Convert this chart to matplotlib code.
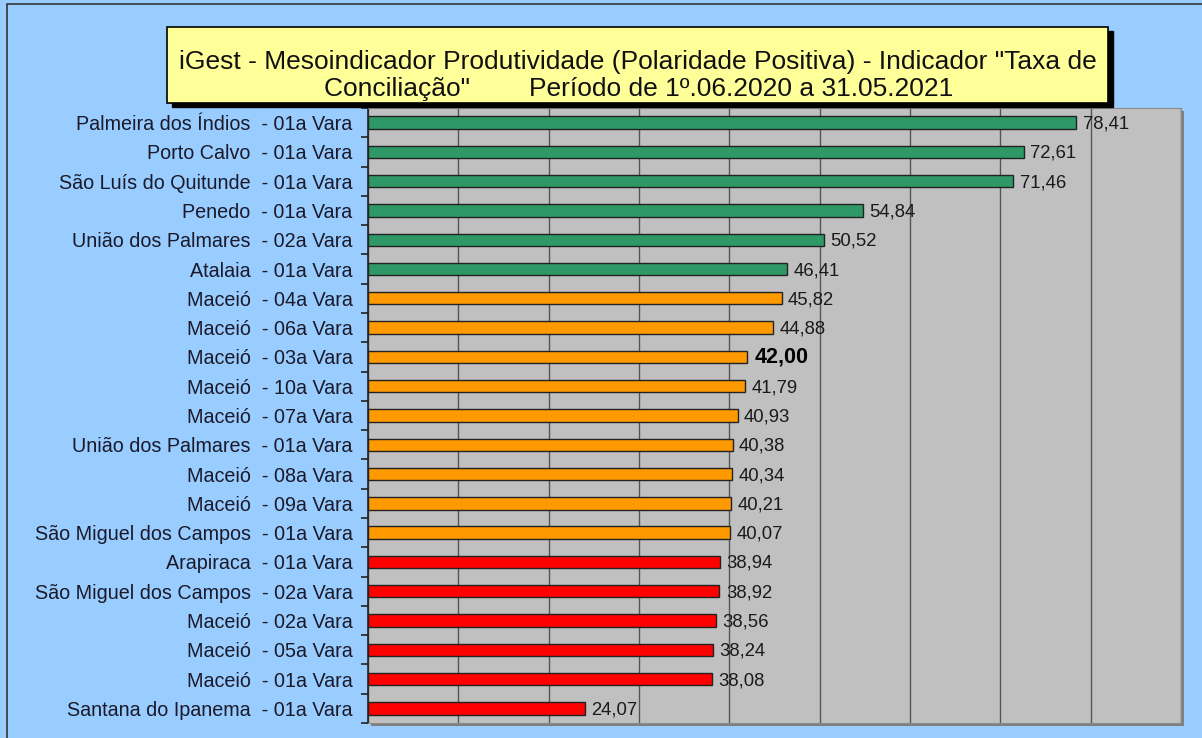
import matplotlib.pyplot as plt
from matplotlib.patches import Rectangle
import numpy as np

plt.rcParams['font.family'] = ['Liberation Sans', 'DejaVu Sans']

# data (top to bottom)
varas = [
    "Palmeira dos Índios  - 01a Vara",
    "Porto Calvo  - 01a Vara",
    "São Luís do Quitunde  - 01a Vara",
    "Penedo  - 01a Vara",
    "União dos Palmares  - 02a Vara",
    "Atalaia  - 01a Vara",
    "Maceió  - 04a Vara",
    "Maceió  - 06a Vara",
    "Maceió  - 03a Vara",
    "Maceió  - 10a Vara",
    "Maceió  - 07a Vara",
    "União dos Palmares  - 01a Vara",
    "Maceió  - 08a Vara",
    "Maceió  - 09a Vara",
    "São Miguel dos Campos  - 01a Vara",
    "Arapiraca  - 01a Vara",
    "São Miguel dos Campos  - 02a Vara",
    "Maceió  - 02a Vara",
    "Maceió  - 05a Vara",
    "Maceió  - 01a Vara",
    "Santana do Ipanema  - 01a Vara",
]
taxa = [78.41, 72.61, 71.46, 54.84, 50.52, 46.41, 45.82, 44.88, 42.00, 41.79,
        40.93, 40.38, 40.34, 40.21, 40.07, 38.94, 38.92, 38.56, 38.24, 38.08, 24.07]
faixa = ["alto"] * 6 + ["medio"] * 9 + ["baixo"] * 6
destaque = "Maceió  - 03a Vara"

cores = {"alto": "#2E9966", "medio": "#FF9900", "baixo": "#FF0000"}

fig = plt.figure(figsize=(12.02, 7.38), dpi=100)
fig.patch.set_facecolor("#99CCFF")
# outer frame (only top/left visible in the original crop)
fig.patches.append(Rectangle((0.006, -0.01), 1.0, 1.005, transform=fig.transFigure,
                             facecolor="none", edgecolor="#333333", linewidth=1.2, zorder=-2))

ax = fig.add_axes([0.306, 0.0203, 0.6765, 0.8334])
ax.set_facecolor("#C0C0C0")

# shadow of plot area (behind the axes)
fig.patches.append(Rectangle((0.3085, 0.0163), 0.6765, 0.8334, transform=fig.transFigure,
                             facecolor="#808080", edgecolor="none", zorder=-1))

y = np.arange(len(varas))
ax.barh(y, taxa, height=0.42, color=[cores[f] for f in faixa],
        edgecolor="#222222", linewidth=1.0, zorder=3)

for yi, v, nome in zip(y, taxa, varas):
    txt = f"{v:.2f}".replace(".", ",")
    if nome == destaque:
        ax.text(v + 0.8, yi, txt, va="center", ha="left", fontsize=15.5,
                fontweight="bold", color="black", zorder=4)
    else:
        ax.text(v + 0.7, yi + 0.05, txt, va="center", ha="left", fontsize=13.3,
                color="#1a1a1a", zorder=4)

ax.set_xlim(0, 90)
ax.set_ylim(len(varas) - 0.5, -0.5)
ax.set_xticks(np.arange(0, 91, 10))
ax.xaxis.grid(True, color="#555555", linewidth=1.0, zorder=1)
ax.tick_params(axis="x", length=0, labelbottom=False)

ax.set_yticks(y)
ax.set_yticklabels(varas, fontsize=14.2, color="#1a1a2a")
ax.set_yticks(np.arange(-0.5, len(varas), 1), minor=True)
ax.tick_params(axis="y", which="major", length=0, pad=11)
ax.tick_params(axis="y", which="minor", length=5, width=1.2, color="#222222")

for s in ["top", "right", "bottom"]:
    ax.spines[s].set_color("#8a8a8a")
ax.spines["left"].set_color("#222222")
ax.spines["left"].set_linewidth(1.2)

# title box with shadow
fig.patches.append(Rectangle((0.143, 0.855), 0.783, 0.103, transform=fig.transFigure,
                             facecolor="black", edgecolor="black", zorder=5))
fig.patches.append(Rectangle((0.139, 0.861), 0.783, 0.103, transform=fig.transFigure,
                             facecolor="#FFFF99", edgecolor="black", linewidth=1.2, zorder=6))
fig.text(0.531, 1 - 62 / 738,
         'iGest - Mesoindicador Produtividade (Polaridade Positiva) - Indicador "Taxa de',
         ha="center", va="center", fontsize=19, color="#111111", zorder=7)
fig.text(0.531, 1 - 89 / 738,
         'Conciliação"        Período de 1º.06.2020 a 31.05.2021',
         ha="center", va="center", fontsize=19, color="#111111", zorder=7)

fig.savefig("out.png", dpi=100, facecolor=fig.get_facecolor())
